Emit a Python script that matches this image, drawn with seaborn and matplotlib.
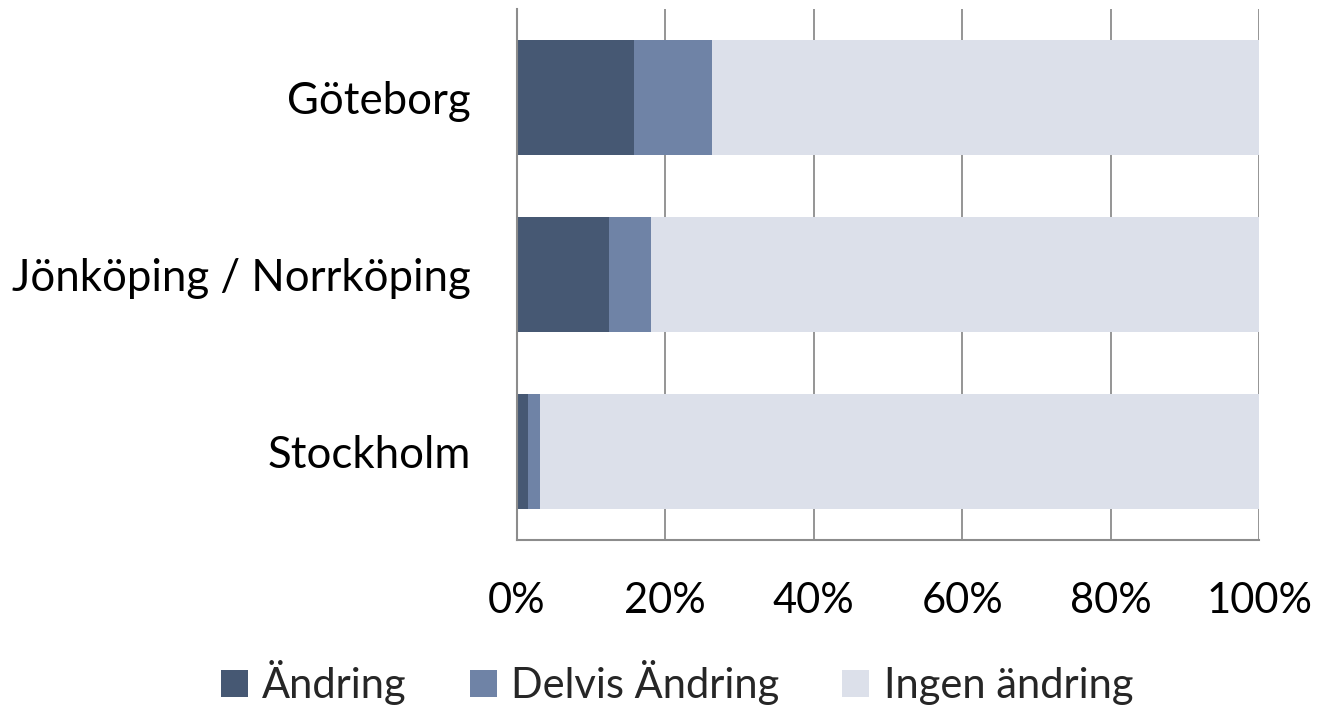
import pandas as pd
import matplotlib
matplotlib.use("Agg")
import matplotlib.pyplot as plt
import seaborn as sns
from matplotlib.patches import Patch

# values (share of responses, %)
cities = ["Göteborg", "Jönköping / Norrköping", "Stockholm"]
andring = [15.8, 12.4, 1.5]
delvis = [10.5, 5.7, 1.6]
ingen = [73.7, 81.9, 96.9]
series_names = ["Ändring", "Delvis Ändring", "Ingen ändring"]
colors = ["#465873", "#6F83A6", "#DCE0EA"]

df = pd.DataFrame({"city": cities, "Ändring": andring,
                   "Delvis Ändring": delvis, "Ingen ändring": ingen})
# cumulative ends so the stacked layers can be drawn back to front
df["end1"] = df["Ändring"]
df["end2"] = df["end1"] + df["Delvis Ändring"]
df["end3"] = df["end2"] + df["Ingen ändring"]

sns.set_style("white")
plt.rcParams["font.family"] = ["Lato", "DejaVu Sans"]

fig = plt.figure(figsize=(13.17, 7.06), dpi=100)
ax = fig.add_axes([0.3923, 0.2351, 0.5639, 0.7522])

for col, c in zip(["end3", "end2", "end1"], colors[::-1]):
    sns.barplot(data=df, x=col, y="city", orient="h", color=c,
                width=0.646, ax=ax, saturation=1, edgecolor="none")

ax.set_xlim(0, 100)
ax.set_ylim(2.5, -0.5)
ax.set_xticks([0, 20, 40, 60, 80, 100])
ax.set_xticklabels(["0%", "20%", "40%", "60%", "80%", "100%"])
ax.set_xlabel("")
ax.set_ylabel("")
ax.tick_params(axis="both", length=0, colors="black")
ax.tick_params(axis="x", pad=30, labelsize=30)
ax.tick_params(axis="y", pad=33, labelsize=31.5)

ax.xaxis.grid(True, color="#8C8C8C", linewidth=1.3)
ax.set_axisbelow(True)
for s in ["top", "right"]:
    ax.spines[s].set_visible(False)
for s in ["left", "bottom"]:
    ax.spines[s].set_color("#8C8C8C")
    ax.spines[s].set_linewidth(1.5)

handles = [Patch(facecolor=c, edgecolor="none", label=n)
           for n, c in zip(series_names, colors)]
fig.legend(handles=handles, loc="center", bbox_to_anchor=(0.514, 0.033),
           ncol=3, frameon=False, fontsize=30, handlelength=0.65,
           handleheight=0.65, handletextpad=0.35, columnspacing=1.5)

fig.savefig("out.png", dpi=100)
